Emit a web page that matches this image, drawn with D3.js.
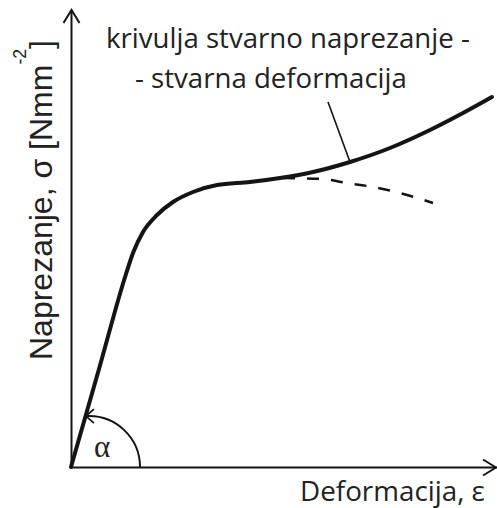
<!DOCTYPE html>
<html>
<head>
<meta charset="utf-8">
<script src="https://cdn.jsdelivr.net/npm/d3@7"></script>
<style>
  body { margin: 0; background: #fff; }
</style>
</head>
<body>
<script>
var width = 497;
var height = 508;

// true stress - true strain curve (arbitrary units)
var strain = [0, 0.028, 0.055, 0.062, 0.072, 0.086, 0.102, 0.122, 0.146, 0.179, 0.209, 0.242, 0.279, 0.319, 0.359, 0.392, 0.421];
var stress = [0, 98, 193, 214, 235, 252, 265, 275, 282, 285, 289, 295, 305, 319, 337, 354, 370];

// engineering curve (dashed branch after the split)
var engStrain = [0.212, 0.251, 0.276, 0.302, 0.329, 0.362];
var engStress = [289, 288, 284, 280, 274, 264];

// leader line from the label down to the curve
var leaderStrain = [0.257, 0.279];
var leaderStress = [365, 305];

var titleLines = ["krivulja stvarno naprezanje -", "- stvarna deformacija"];
var yLabel = "Naprezanje, σ [Nmm";
var yUnitExp = "-2";
var xLabel = "Deformacija, ε";
var angleLabel = "α";

var x = d3.scaleLinear().domain([0, 0.426]).range([71, 497]);
var y = d3.scaleLinear().domain([0, 457]).range([467, 10]);

var svg = d3.select("body")
    .append("svg")
    .attr("width", width)
    .attr("height", height)
    .style("display", "block");

var ink = "#141414";

// axes: just the domain lines, no ticks
svg.append("g")
    .attr("transform", "translate(" + x(0) + ",0)")
    .call(d3.axisLeft(y).tickValues([]).tickSizeOuter(0))
    .call(g => g.select(".domain").attr("stroke", ink).attr("stroke-width", 2));

svg.append("g")
    .attr("transform", "translate(0," + y(0) + ")")
    .call(d3.axisBottom(x).tickValues([]).tickSizeOuter(0))
    .call(g => g.select(".domain").attr("stroke", ink).attr("stroke-width", 2));

// arrow heads on the axes
var ax = x(0) + 0.5, ay = y(0) + 0.5;
svg.append("path")
    .attr("d", "M" + (ax - 8) + "," + (y.range()[1] + 13) + "L" + ax + "," + y.range()[1] + "L" + (ax + 8) + "," + (y.range()[1] + 13))
    .attr("fill", "none").attr("stroke", ink).attr("stroke-width", 2);
svg.append("path")
    .attr("d", "M" + (x.range()[1] - 14) + "," + (ay - 8) + "L" + (x.range()[1] - 1) + "," + ay + "L" + (x.range()[1] - 14) + "," + (ay + 8))
    .attr("fill", "none").attr("stroke", ink).attr("stroke-width", 2);

// curves
var line = d3.line()
    .x(function (d) { return x(d[0]); })
    .y(function (d) { return y(d[1]); })
    .curve(d3.curveMonotoneX);

svg.append("path")
    .attr("d", line(d3.zip(engStrain, engStress)))
    .attr("fill", "none")
    .attr("stroke", ink)
    .attr("stroke-width", 2.5)
    .attr("stroke-dasharray", "12,12");

svg.append("path")
    .attr("d", line(d3.zip(strain, stress)))
    .attr("fill", "none")
    .attr("stroke", ink)
    .attr("stroke-width", 4)
    .attr("stroke-linecap", "round");

svg.append("line")
    .attr("x1", x(leaderStrain[0])).attr("y1", y(leaderStress[0]))
    .attr("x2", x(leaderStrain[1])).attr("y2", y(leaderStress[1]))
    .attr("stroke", ink)
    .attr("stroke-width", 1.6);

// angle alpha arc with arrow
var r = 51, cx = 140 - r, cy = y(0);
var a1 = -Math.PI / 2 - 0.06;
var p = d3.path();
p.arc(cx, cy, r, 0, a1, true);
svg.append("path")
    .attr("d", p.toString())
    .attr("fill", "none").attr("stroke", ink).attr("stroke-width", 2);
var tx = cx + r * Math.cos(a1), ty = cy + r * Math.sin(a1);
svg.append("path")
    .attr("d", "M" + (tx + 8) + "," + (ty - 7) + "L" + tx + "," + ty + "L" + (tx + 8) + "," + (ty + 7))
    .attr("fill", "none").attr("stroke", ink).attr("stroke-width", 1.8);

svg.append("text")
    .attr("x", 102).attr("y", 457)
    .attr("text-anchor", "middle")
    .style("font-family", "'Liberation Serif', 'DejaVu Serif', serif")
    .style("font-size", "31px")
    .attr("fill", "#222")
    .text(angleLabel);

// scale a text so that it spans the wanted width
function fit(t, w) {
    var len = t.node().getComputedTextLength();
    var fs = parseFloat(t.style("font-size"));
    t.style("font-size", (fs * w / len) + "px");
}

var sans = "'Open Sans', 'Noto Sans', sans-serif";

var t1 = svg.append("text")
    .attr("x", 106).attr("y", 48)
    .style("font-family", sans).style("font-size", "22px")
    .attr("fill", "#222")
    .text(titleLines[0]);
fit(t1, 364);

var t2 = svg.append("text")
    .attr("x", 135).attr("y", 88)
    .style("font-family", sans).style("font-size", "22px")
    .attr("fill", "#222")
    .text(titleLines[1]);
fit(t2, 272);

var xl = svg.append("text")
    .attr("x", 300).attr("y", 501)
    .style("font-family", sans).style("font-size", "22px")
    .attr("fill", "#222")
    .text(xLabel);
fit(xl, 185);

var yl = svg.append("text")
    .attr("transform", "translate(52,360) rotate(-90)")
    .style("font-family", "'Liberation Sans', Arial, sans-serif").style("font-size", "28px")
    .attr("fill", "#222");
yl.append("tspan").text(yLabel);
yl.append("tspan").style("font-size", "0.55em").attr("dy", "-1.45em").text(yUnitExp);
yl.append("tspan").attr("dy", "0.8em").text("]");
fit(yl, 320);
</script>
</body>
</html>
